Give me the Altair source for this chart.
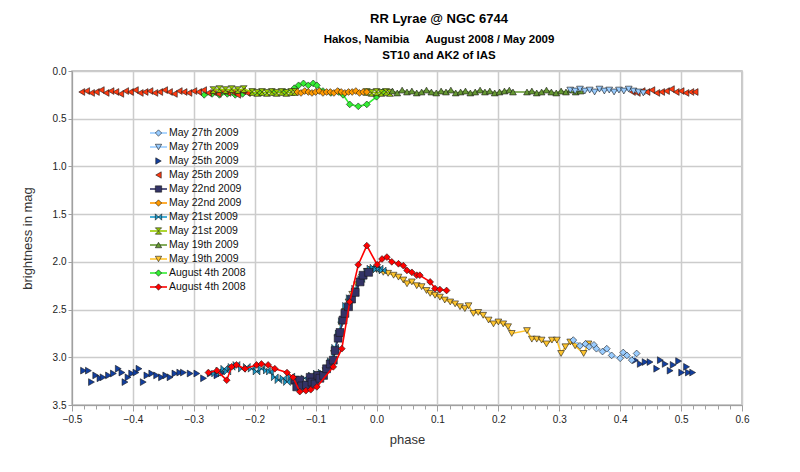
import altair as alt
import pandas as pd

# ---------------- data ----------------
labels = ["May 27th 2009", "May 27th 2009 ", "May 25th 2009", "May 25th 2009 ",
          "May 22nd 2009", "May 22nd 2009 ", "May 21st 2009", "May 21st 2009 ",
          "May 19th 2009", "May 19th 2009 ", "August 4th 2008", "August 4th 2008 "]
colors = ["#99CCFF", "#99CCFF", "#123FA0", "#FF3A10", "#333366", "#FF9900",
          "#1A9ACC", "#99CC00", "#669933", "#FFC52E", "#33EE33", "#FF0000"]
shapes = ["diamond", "triangle-down", "triangle-right", "triangle-left", "square", "diamond",
          "M-1,-1L1,1L1,-1L-1,1Z", "M-1,-1L1,-1L-1,1L1,1Z", "triangle-up", "triangle-down",
          "diamond", "diamond"]
has_line = [True, True, False, False, True, True, True, True, True, True, True, True]
legend_rows = [0, 1, 2, 3, 4, 5, 6, 7, 8, 9, 10, 11]

# S1 May 27th (variable, light blue diamonds)
s01_x = [0.323, 0.334, 0.343, 0.349, 0.357, 0.361, 0.371, 0.378, 0.386, 0.400, 0.405, 0.411, 0.419, 0.427]
s01_y = [2.82, 2.88, 2.86, 2.89, 2.87, 2.91, 2.94, 2.91, 2.98, 3.01, 2.95, 2.98, 3.03, 2.96]
# S2 May 27th (comparison, light blue triangles down)
s02_x = [0.318, 0.326, 0.334, 0.342, 0.350, 0.358, 0.366, 0.374, 0.382, 0.390, 0.398, 0.406, 0.414, 0.422, 0.430, 0.438]
s02_y = [0.20, 0.21, 0.19, 0.21, 0.20, 0.22, 0.19, 0.21, 0.20, 0.22, 0.20, 0.21, 0.19, 0.21, 0.22, 0.23]
# S3 May 25th (variable, dark blue triangles right)
s03_x = [-0.481, -0.473, -0.468, -0.461, -0.454, -0.449, -0.440, -0.432, -0.424, -0.418, -0.413, -0.408,
         -0.402, -0.395, -0.390, -0.383, -0.377, -0.369, -0.361, -0.353, -0.346, -0.339, -0.331, -0.323,
         -0.317, -0.306, -0.295, -0.284, -0.273, -0.262, -0.252,
         0.425, 0.433, 0.441, 0.449, 0.460, 0.466, 0.474, 0.482, 0.487, 0.496, 0.501, 0.509, 0.512, 0.519]
s03_y = [3.14, 3.14, 3.26, 3.19, 3.22, 3.21, 3.19, 3.17, 3.12, 3.16, 3.26, 3.21,
         3.17, 3.16, 3.12, 3.26, 3.19, 3.17, 3.19, 3.21, 3.19, 3.21, 3.17, 3.16,
         3.16, 3.17, 3.17, 3.22, 3.17, 3.19, 3.16,
         3.03, 3.07, 3.05, 3.05, 3.12, 3.03, 3.07, 3.14, 3.08, 3.04, 3.16, 3.10, 3.16, 3.16]
# S4 May 25th (comparison, red triangles left)
s04_x = [-0.484, -0.476, -0.468, -0.460, -0.452, -0.444, -0.436, -0.428, -0.420, -0.412, -0.404, -0.396,
         -0.388, -0.380, -0.372, -0.364, -0.356, -0.348, -0.340, -0.332, -0.324, -0.316, -0.308, -0.300,
         -0.292, -0.284, -0.276, -0.268, -0.260, -0.252, -0.244, -0.236, -0.228, -0.220, -0.212,
         0.420, 0.428, 0.436, 0.444, 0.452, 0.460, 0.468, 0.476, 0.484, 0.492, 0.500, 0.508, 0.516, 0.523]
s04_y = [0.22, 0.21, 0.23, 0.22, 0.20, 0.23, 0.21, 0.22, 0.24, 0.21, 0.22, 0.20,
         0.23, 0.22, 0.21, 0.23, 0.22, 0.20, 0.22, 0.24, 0.21, 0.22, 0.23, 0.21,
         0.22, 0.20, 0.23, 0.22, 0.24, 0.21, 0.23, 0.22, 0.25, 0.21, 0.23,
         0.22, 0.23, 0.21, 0.22, 0.20, 0.23, 0.22, 0.21, 0.19, 0.22, 0.21, 0.23, 0.22, 0.22]
# S5 May 22nd (variable, navy squares)
s05_x = [-0.134, -0.131, -0.126, -0.123, -0.115, -0.109, -0.106, -0.101, -0.096, -0.093, -0.087, -0.082,
         -0.076, -0.071, -0.068, -0.063, -0.060, -0.055, -0.052, -0.046, -0.041, -0.035, -0.027, -0.022, -0.013]
s05_y = [3.24, 3.31, 3.24, 3.30, 3.29, 3.21, 3.26, 3.28, 3.19, 3.22, 3.19, 3.12,
         3.07, 3.03, 2.93, 2.80, 2.74, 2.61, 2.54, 2.47, 2.39, 2.32, 2.21, 2.14, 2.11]
# S6 May 22nd (comparison, orange diamonds)
s06_x = [-0.130, -0.124, -0.118, -0.112, -0.106, -0.100, -0.094, -0.088, -0.082, -0.076,
         -0.070, -0.064, -0.058, -0.052, -0.046, -0.040, -0.034, -0.028, -0.022, -0.016]
s06_y = [0.22, 0.23, 0.21, 0.22, 0.23, 0.22, 0.21, 0.23, 0.22, 0.22,
         0.23, 0.21, 0.22, 0.23, 0.22, 0.22, 0.21, 0.23, 0.22, 0.22]
# S7 May 21st (variable, blue bowties)
s07_x = [-0.265, -0.258, -0.250, -0.245, -0.238, -0.230, -0.221, -0.213, -0.205, -0.197, -0.189, -0.180,
         -0.175, -0.167, -0.161, -0.153, -0.147, -0.140, -0.118, -0.106, -0.098, -0.090, -0.082, -0.075,
         -0.068, -0.062, -0.057, -0.050, -0.044, -0.035, -0.025, -0.015, -0.010, -0.005, 0.000, 0.005, 0.010]
s07_y = [3.17, 3.14, 3.12, 3.15, 3.10, 3.08, 3.12, 3.10, 3.12, 3.15, 3.12, 3.14,
         3.15, 3.21, 3.24, 3.22, 3.26, 3.20, 3.22, 3.19, 3.17, 3.16, 3.12, 3.04,
         2.90, 2.75, 2.62, 2.46, 2.38, 2.28, 2.18, 2.10, 2.07, 2.06, 2.08, 2.07, 2.09]
# S8 May 21st (comparison, yellow-green hourglasses)
s08_x = [-0.268, -0.258, -0.248, -0.238, -0.228, -0.218, -0.204, -0.196, -0.188, -0.180, -0.172, -0.164,
         -0.156, -0.148, -0.140, -0.134, -0.016, -0.008, 0.000, 0.008, 0.016, 0.022]
s08_y = [0.20, 0.19, 0.20, 0.19, 0.20, 0.19, 0.22, 0.23, 0.22, 0.23, 0.22, 0.23,
         0.22, 0.23, 0.22, 0.22, 0.22, 0.23, 0.22, 0.23, 0.22, 0.23]
# S9 May 19th (comparison, olive triangles up)
s09_x = [0.026, 0.034, 0.042, 0.050, 0.058, 0.066, 0.074, 0.082, 0.090, 0.098, 0.106, 0.114, 0.122,
         0.130, 0.138, 0.146, 0.154, 0.162, 0.170, 0.178, 0.186, 0.194, 0.202, 0.210, 0.218, 0.224,
         0.247, 0.255, 0.263, 0.271, 0.279, 0.287, 0.295, 0.303, 0.311, 0.319, 0.327, 0.335]
s09_y = [0.21, 0.23, 0.20, 0.22, 0.21, 0.23, 0.22, 0.20, 0.22, 0.23, 0.21, 0.22, 0.20,
         0.23, 0.22, 0.21, 0.23, 0.22, 0.20, 0.22, 0.21, 0.23, 0.22, 0.21, 0.20, 0.22,
         0.22, 0.21, 0.23, 0.22, 0.20, 0.22, 0.23, 0.21, 0.22, 0.20, 0.22, 0.21]
# S10 May 19th (variable, yellow triangles down)
s10_x = [-0.100, -0.092, -0.084, -0.076, -0.070, -0.064, -0.058, -0.052, -0.046, -0.040, -0.032, -0.024,
         -0.016, -0.008, 0.000, 0.005, 0.011, 0.019, 0.028, 0.036, 0.044, 0.050, 0.058, 0.066, 0.074,
         0.082, 0.088, 0.096, 0.104, 0.112, 0.121, 0.129, 0.137, 0.145, 0.151, 0.159, 0.167, 0.175,
         0.184, 0.192, 0.200, 0.208, 0.216, 0.222, 0.247, 0.255, 0.263, 0.271, 0.279, 0.288, 0.296,
         0.303, 0.310, 0.318, 0.326, 0.340, 0.348]
s10_y = [3.22, 3.18, 3.14, 3.06, 2.96, 2.80, 2.66, 2.52, 2.42, 2.34, 2.24, 2.16,
         2.10, 2.08, 2.08, 2.09, 2.11, 2.12, 2.14, 2.16, 2.19, 2.23, 2.21, 2.25, 2.26,
         2.30, 2.33, 2.35, 2.37, 2.40, 2.42, 2.44, 2.47, 2.49, 2.46, 2.54, 2.53, 2.56,
         2.61, 2.65, 2.63, 2.65, 2.68, 2.75, 2.72, 2.81, 2.81, 2.82, 2.86, 2.82, 2.82,
         2.96, 2.89, 2.84, 2.88, 2.96, 2.86]
# S11 August 4th 2008 (comparison, green diamonds)
s11_x = [-0.283, -0.270, -0.258, -0.245, -0.232, -0.220, -0.208, -0.190, -0.170, -0.150, -0.135, -0.128,
         -0.120, -0.112, -0.104, -0.098, -0.088, -0.075, -0.062, -0.055, -0.044, -0.030, -0.016, 0.000, 0.010]
s11_y = [0.25, 0.24, 0.25, 0.24, 0.25, 0.24, 0.23, 0.23, 0.22, 0.22, 0.18, 0.15,
         0.13, 0.15, 0.13, 0.15, 0.21, 0.23, 0.22, 0.25, 0.35, 0.37, 0.35, 0.27, 0.22]
# S12 August 4th 2008 (variable, red diamonds)
s12_x = [-0.276, -0.262, -0.246, -0.238, -0.230, -0.216, -0.197, -0.189, -0.178, -0.167, -0.147, -0.137,
         -0.126, -0.116, -0.108, -0.098, -0.071, -0.057, -0.044, -0.030, -0.016, 0.001, 0.009, 0.017,
         0.025, 0.036, 0.044, 0.050, 0.058, 0.066, 0.071, 0.088, 0.096, 0.104, 0.115]
s12_y = [3.16, 3.14, 3.24, 3.10, 3.08, 3.12, 3.08, 3.07, 3.08, 3.12, 3.16, 3.21,
         3.36, 3.35, 3.34, 3.31, 3.10, 2.91, 2.42, 2.03, 1.83, 2.03, 1.97, 1.95,
         2.00, 2.02, 2.04, 2.09, 2.11, 2.14, 2.14, 2.21, 2.28, 2.29, 2.30]

series_x = [s01_x, s02_x, s03_x, s04_x, s05_x, s06_x, s07_x, s08_x, s09_x, s10_x, s11_x, s12_x]
series_y = [s01_y, s02_y, s03_y, s04_y, s05_y, s06_y, s07_y, s08_y, s09_y, s10_y, s11_y, s12_y]

rows = []
for i, (xs, ys) in enumerate(zip(series_x, series_y)):
    for a, b in zip(xs, ys):
        rows.append({"phase": a, "mag": b, "series": labels[i]})
df = pd.DataFrame(rows)

leg_df = pd.DataFrame({"series": labels, "row": legend_rows,
                       "line": [1 if h else 0 for h in has_line]})

# ---------------- chart ----------------
FONT = "Liberation Sans"
x_ticks = [round(-0.5 + 0.02 * k, 2) + 0.0 for k in range(56)]
major_test = "abs(datum.value*10 - round(datum.value*10)) < 0.01"

x_enc = alt.X("phase:Q", title="phase",
              scale=alt.Scale(domain=[-0.5, 0.6], nice=False, zero=False),
              axis=alt.Axis(values=x_ticks, labelFlush=False,
                            labelExpr=f"{major_test} ? format(datum.value, '.1f') : ''",
                            gridOpacity={"condition": {"test": major_test, "value": 1}, "value": 0},
                            tickSize={"condition": {"test": major_test, "value": 6}, "value": 4},
                            titlePadding=9, labelPadding=3))
y_enc = alt.Y("mag:Q", title="brightness in mag",
              scale=alt.Scale(domain=[0, 3.5], reverse=True, nice=False, zero=False),
              axis=alt.Axis(values=[0, 0.5, 1.0, 1.5, 2.0, 2.5, 3.0, 3.5], format=".1f",
                            labelFlush=False, titlePadding=18, tickSize=4))

color_enc = alt.Color("series:N", scale=alt.Scale(domain=labels, range=colors), legend=None)
shape_enc = alt.Shape("series:N", scale=alt.Scale(domain=labels, range=shapes), legend=None)

draw_order = [10, 3, 7, 5, 8, 1, 2, 9, 0, 6, 4, 11]
layers = []
for i in draw_order:
    lab = labels[i]
    base = alt.Chart(df).transform_filter(alt.datum.series == lab)
    if has_line[i]:
        layers.append(base.mark_line(color=colors[i], strokeWidth=1.6).encode(x=x_enc, y=y_enc))
    size = 62 if shapes[i] == "square" else 46
    layers.append(base.mark_point(filled=True, size=size, stroke="#1a1a1a", strokeWidth=0.6,
                                  opacity=1).encode(x=x_enc, y=y_enc, color=color_enc, shape=shape_enc))
main = alt.layer(*layers)

# manual legend (inside the plot, like the original)
leg_y = alt.Y("row:Q", scale=alt.Scale(domain=[0, 11], range=[62, 216]), axis=None)
leg_base = alt.Chart(leg_df)
leg_lines = leg_base.transform_filter(alt.datum.line == 1).mark_rule(strokeWidth=1.6).encode(
    x=alt.value(78), x2=alt.value(95), y=leg_y, color=color_enc)
leg_pts = leg_base.mark_point(filled=True, size=40, stroke="#1a1a1a", strokeWidth=0.6, opacity=1).encode(
    x=alt.value(86.5), y=leg_y, color=color_enc, shape=shape_enc)
leg_txt = leg_base.mark_text(align="left", baseline="middle", font=FONT, fontSize=10.5, color="#111").encode(
    x=alt.value(97), y=leg_y, text="series:N")
legend_layer = alt.layer(leg_lines, leg_pts, leg_txt)

sp = "\u00a0" * 5
chart = alt.layer(main, legend_layer).resolve_scale(y="independent").properties(
    width=670, height=334,
    autosize=alt.AutoSizeParams(type="none"),
    padding={"left": 64, "top": 63, "right": 50, "bottom": 59},
    title=alt.TitleParams(text="RR Lyrae @ NGC 6744",
                          subtitle=[f"Hakos, Namibia{sp}August 2008 / May 2009", "ST10 and AK2 of IAS"],
                          font=FONT, fontSize=13, fontWeight="bold", color="#000",
                          subtitleFont=FONT, subtitleFontSize=11.5, subtitleFontWeight="bold",
                          subtitleColor="#000", subtitleLineHeight=16, subtitlePadding=8,
                          anchor="middle", dx=32, offset=5),
).configure_axis(
    labelFont=FONT, titleFont=FONT, labelFontSize=10, titleFontSize=13, titleFontWeight="normal",
    labelColor="#222", titleColor="#333", gridColor="#cccccc", gridWidth=1.5,
    domainColor="#a0a0a0", tickColor="#a0a0a0",
).configure_view(stroke="#b8b8b8", strokeWidth=1.5)

chart.save("out.html", embed_options={"renderer": "svg", "actions": False})
